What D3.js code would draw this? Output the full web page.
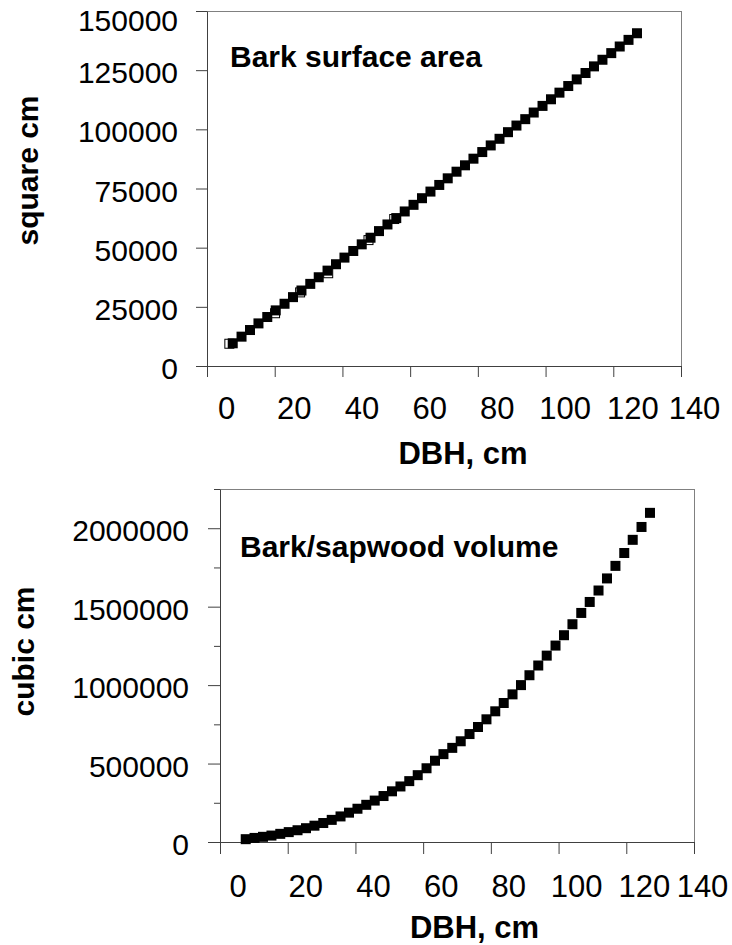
<!DOCTYPE html>
<html>
<head>
<meta charset="utf-8">
<script src="https://cdn.jsdelivr.net/npm/d3@7"></script>
<style>
body { margin: 0; background: #fff; }
svg text { font-family: "Liberation Sans", Arial, sans-serif; fill: #000; }
</style>
</head>
<body>
<svg id="chart" width="732" height="945"></svg>
<script>
// DBH (cm), one point per inch from 3 to 50 in
var dbh = [7.6, 10.2, 12.7, 15.2, 17.8, 20.3, 22.9, 25.4, 27.9, 30.5,
	33.0, 35.6, 38.1, 40.6, 43.2, 45.7, 48.3, 50.8, 53.3, 55.9,
	58.4, 61.0, 63.5, 66.0, 68.6, 71.1, 73.7, 76.2, 78.7, 81.3,
	83.8, 86.4, 88.9, 91.4, 94.0, 96.5, 99.1, 101.6, 104.1, 106.7,
	109.2, 111.8, 114.3, 116.8, 119.4, 121.9, 124.5, 127.0];

// bark surface area, square cm
var barkArea = [9600, 12400, 15200, 18000, 20700, 23500, 26300, 29100, 31900, 34700,
	37500, 40300, 43000, 45800, 48600, 51400, 54200, 57000, 59800, 62500,
	65300, 68100, 70900, 73700, 76500, 79300, 82100, 84800, 87600, 90400,
	93200, 96000, 98800, 101600, 104300, 107100, 109900, 112700, 115500, 118300,
	121100, 123800, 126600, 129400, 132200, 135000, 137800, 140600];

// measured trees (open squares), mostly hidden under the filled ones
var openDbh = [6.6, 20.1, 27.5, 35.8, 47.7, 55.3];
var openArea = [9400, 22300, 31100, 39200, 53200, 62100];

// bark/sapwood volume, cubic cm
var barkVolume = [18000, 26000, 33000, 41000, 52000, 63000, 75000, 88000, 104000, 121000,
	141000, 163000, 187000, 212000, 237000, 264000, 293000, 323000, 354000, 388000,
	426000, 470000, 518000, 560000, 600000, 642000, 688000, 733000, 782000, 833000,
	886000, 941000, 1000000, 1063000, 1125000, 1188000, 1252000, 1318000, 1388000, 1460000,
	1530000, 1603000, 1680000, 1760000, 1842000, 1926000, 2008000, 2098000];

var xTicks = [0, 20, 40, 60, 80, 100, 120, 140];
var areaTicks = [0, 25000, 50000, 75000, 100000, 125000, 150000];
var volumeTicks = [0, 500000, 1000000, 1500000, 2000000];
var volumeMinor = [250000, 750000, 1250000, 1750000, 2250000];

var svg = d3.select("#chart");
const axisColor = "#404040";
const frameColor = "#808080";
const markSize = 10;

function drawPanel(p)
{
	var g = svg.append("g");

	var x = d3.scaleLinear().domain([0, 140]).range([p.left, p.right]);
	var y = d3.scaleLinear().domain(p.yDomain).range([p.bottom, p.top]);

	// cadre
	g.append("rect")
		.attr("x", p.left + 0.5)
		.attr("y", p.top + 0.5)
		.attr("width", p.right - p.left)
		.attr("height", p.bottom - p.top)
		.attr("fill", "none")
		.attr("stroke", frameColor);

	// axe Y mineur
	if (p.yMinor)
	{
		g.append("g")
			.attr("transform", "translate(" + p.left + ",0)")
			.call(d3.axisLeft(y).tickValues(p.yMinor).tickSize(6).tickSizeOuter(0).tickFormat(""))
			.call(s => s.select(".domain").remove())
			.selectAll("line").attr("stroke", axisColor);
	}

	// axe Y
	var yAxis = g.append("g")
		.attr("transform", "translate(" + p.left + ",0)")
		.call(d3.axisLeft(y).tickValues(p.yTicks).tickSize(p.tickLen).tickSizeOuter(0)
			.tickPadding(p.yPad).tickFormat(d3.format("d")));
	yAxis.selectAll("line, path").attr("stroke", axisColor);
	yAxis.selectAll("text")
		.style("font-size", "30px")
		.attr("dy", d => (p.clampTop && d == p.yDomain[1]) ? "0.65em" : "0.42em");

	// axe X
	var xAxis = g.append("g")
		.attr("transform", "translate(0," + p.bottom + ")")
		.call(d3.axisBottom(x).tickValues(xTicks).tickSize(p.tickLen).tickSizeOuter(0)
			.tickPadding(p.xPad).tickFormat(d3.format("d")));
	xAxis.selectAll("line, path").attr("stroke", axisColor);
	xAxis.selectAll("text")
		.style("font-size", "31px")
		.attr("dx", d => d == 140 ? p.lastShift : p.labelShift);

	// titre axe X
	g.append("text")
		.attr("x", (p.left + p.right) / 2 + p.labelShift)
		.attr("y", p.xTitleY)
		.attr("text-anchor", "middle")
		.style("font-size", "31px")
		.style("font-weight", "bold")
		.text("DBH, cm");

	// titre axe Y
	g.append("text")
		.attr("transform", "translate(" + p.yTitleX + "," + ((p.top + p.bottom) / 2 + p.yTitleShift) + ") rotate(-90)")
		.attr("text-anchor", "middle")
		.style("font-size", "30px")
		.style("font-weight", "bold")
		.text(p.yTitle);

	// titre du graphe
	g.append("text")
		.attr("x", p.titleX)
		.attr("y", p.titleY)
		.style("font-size", "30px")
		.style("font-weight", "bold")
		.text(p.title);

	// points ouverts
	if (p.openX)
	{
		g.selectAll(".open")
			.data(p.openX)
			.enter()
			.append("rect")
			.attr("class", "open")
			.attr("x", d => x(d) - markSize / 2 + 0.5)
			.attr("y", (d, i) => y(p.openY[i]) - markSize / 2 + 0.5)
			.attr("width", markSize - 1)
			.attr("height", markSize - 1)
			.attr("fill", "#fff")
			.attr("stroke", "#000");
	}

	// points pleins
	g.selectAll(".dot")
		.data(dbh)
		.enter()
		.append("rect")
		.attr("class", "dot")
		.attr("x", d => x(d) - markSize / 2)
		.attr("y", (d, i) => y(p.values[i]) - markSize / 2)
		.attr("width", markSize)
		.attr("height", markSize)
		.attr("fill", "#000");
}

drawPanel({
	left: 207, right: 681, top: 11, bottom: 366,
	yDomain: [0, 150000], yTicks: areaTicks, clampTop: true,
	tickLen: 11, yPad: 18, xPad: 20,
	labelShift: 19, lastShift: 13,
	xTitleY: 464, yTitleX: 38, yTitleShift: -18,
	yTitle: "square cm",
	title: "Bark surface area", titleX: 230, titleY: 67,
	values: barkArea, openX: openDbh, openY: openArea
});

drawPanel({
	left: 220, right: 694, top: 489, bottom: 842,
	yDomain: [0, 2250000], yTicks: volumeTicks, yMinor: volumeMinor,
	tickLen: 12, yPad: 19, xPad: 21,
	labelShift: 17.5, lastShift: 8,
	xTitleY: 938, yTitleX: 34, yTitleShift: -14,
	yTitle: "cubic cm",
	title: "Bark/sapwood volume", titleX: 240, titleY: 557,
	values: barkVolume
});
</script>
</body>
</html>
